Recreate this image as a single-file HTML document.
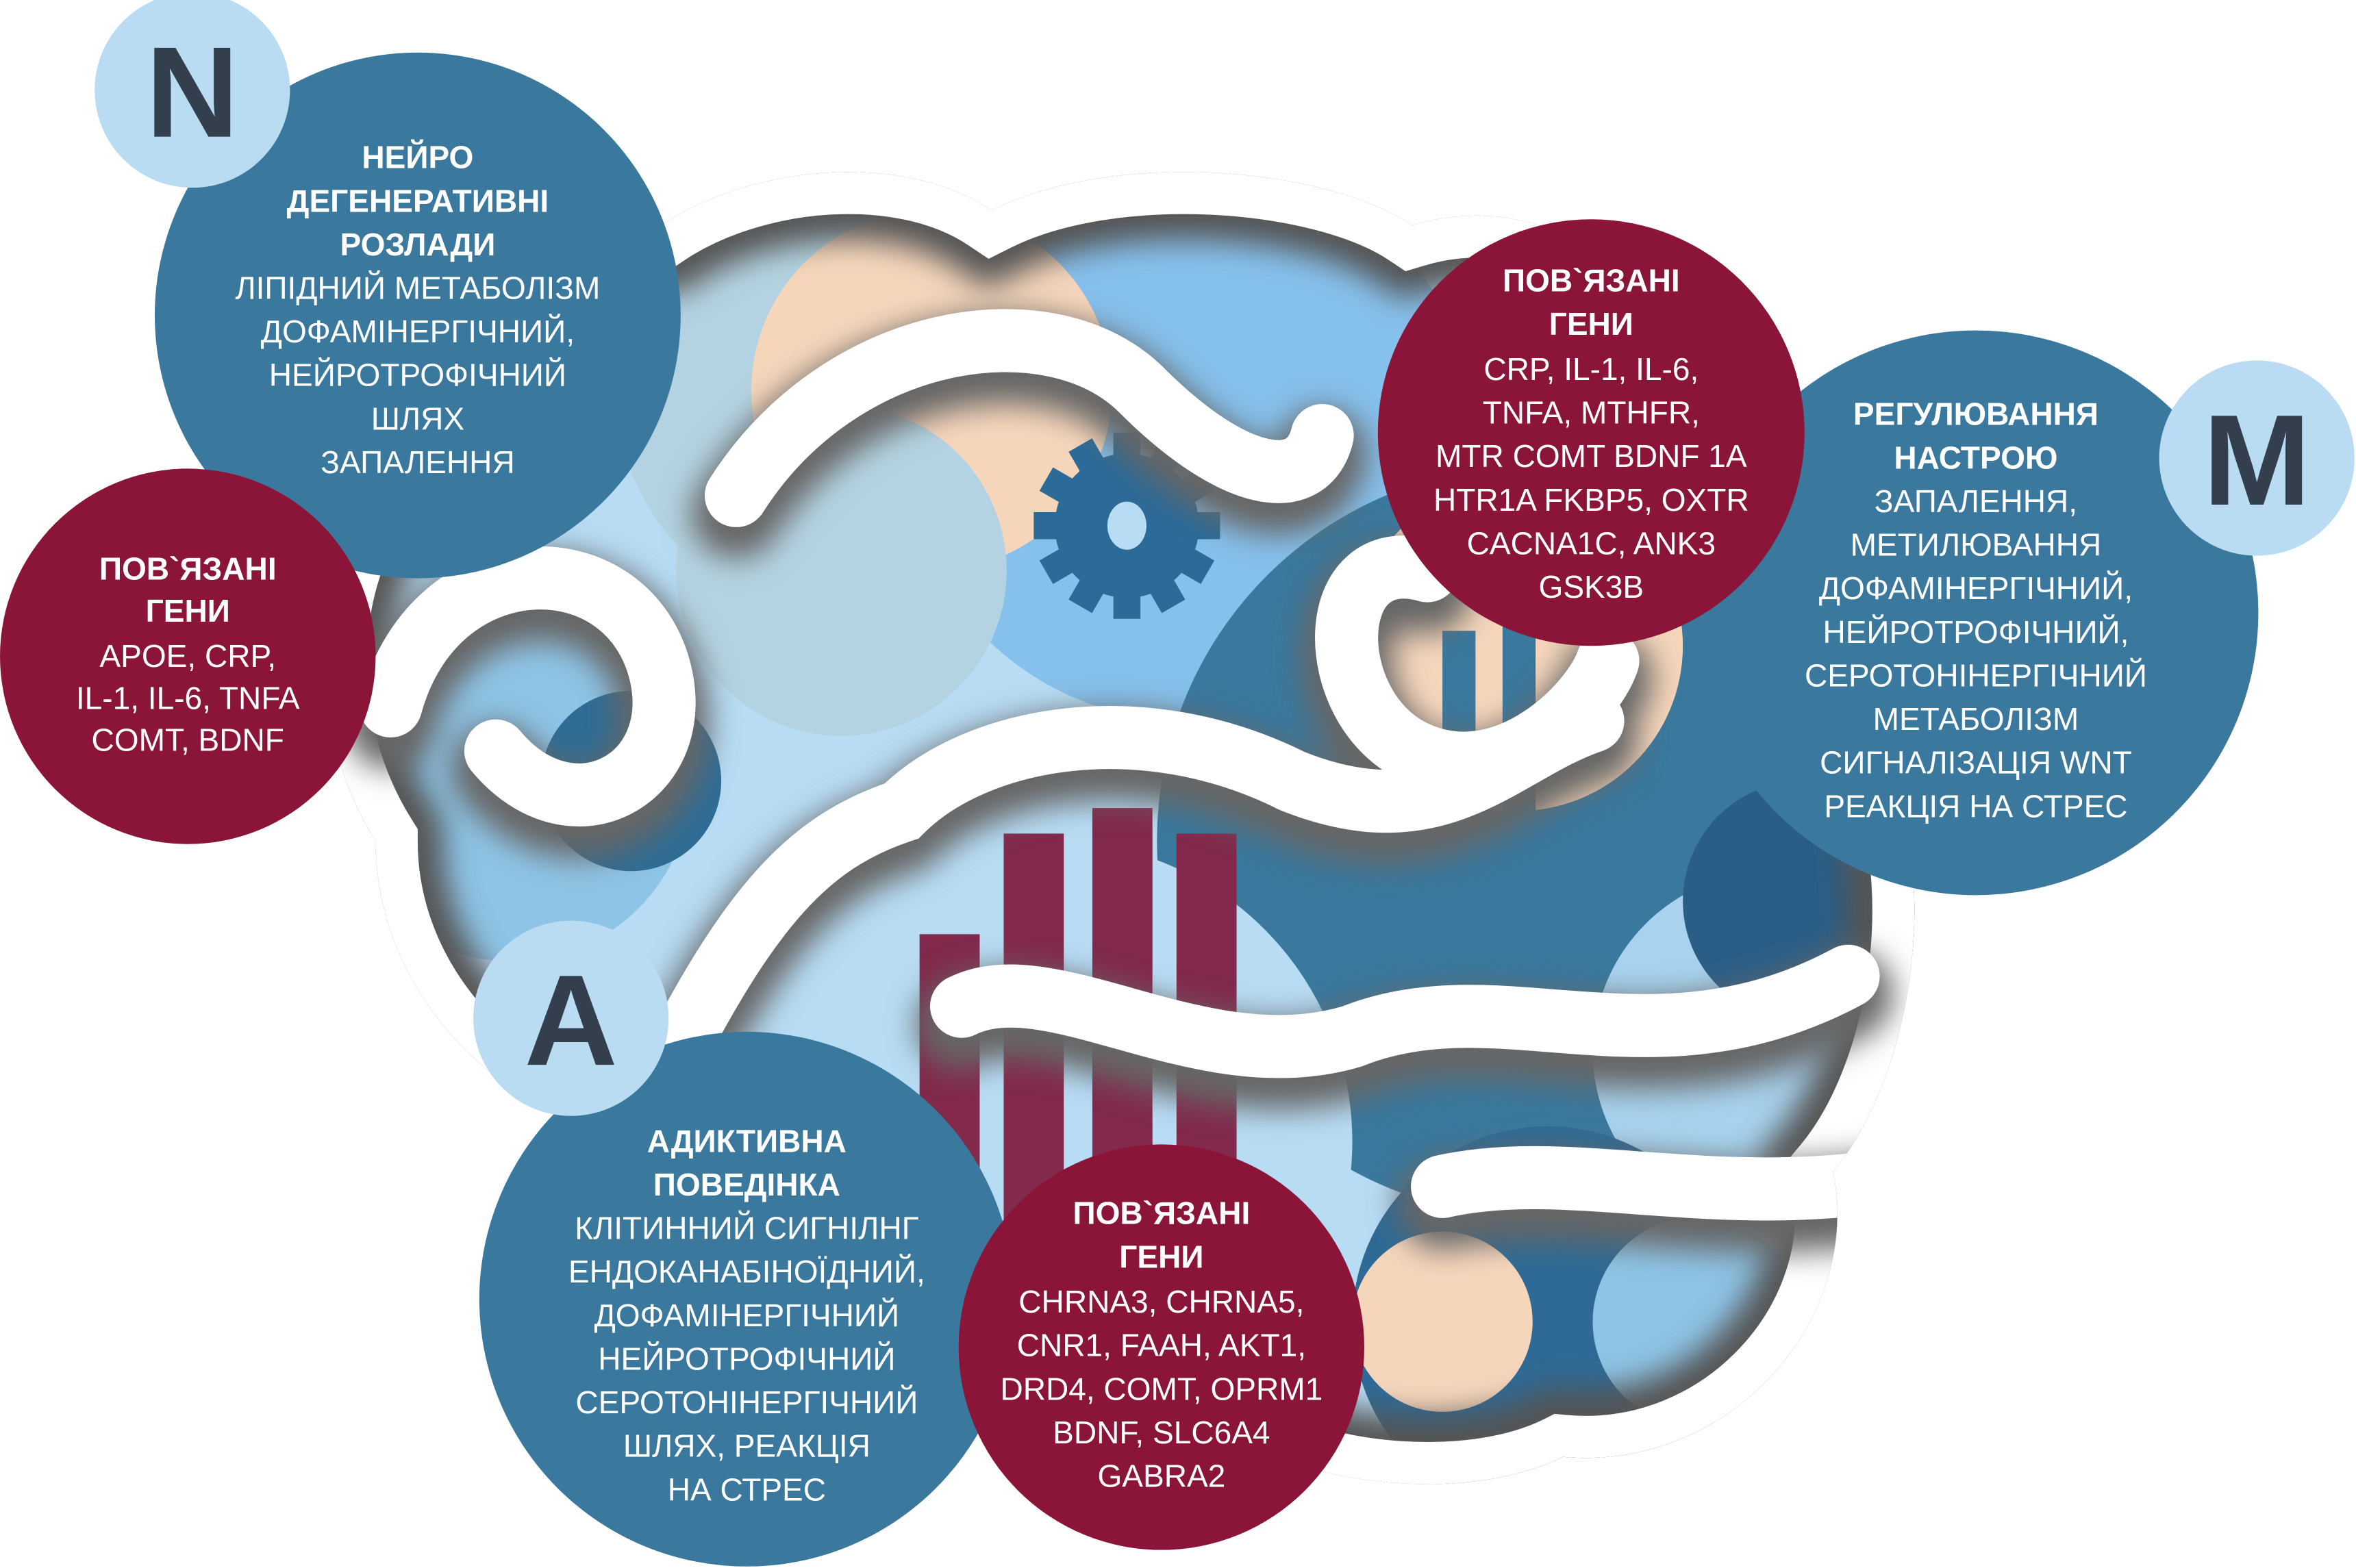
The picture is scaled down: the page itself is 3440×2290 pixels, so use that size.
<!DOCTYPE html>
<html><head><meta charset="utf-8"><style>
html,body{margin:0;padding:0;background:#fff;}
svg{display:block;}
text{font-family:"Liberation Sans","DejaVu Sans",sans-serif;fill:#fff;text-anchor:middle;}
.h{font-weight:bold;font-size:21px;}
.b{font-size:21px;}
.L{font-family:"Liberation Sans",sans-serif;font-weight:bold;font-size:86px;fill:#333f4c;}
</style></head><body>
<svg width="3440" height="2290" viewBox="0 0 1568 1044" preserveAspectRatio="none" xmlns="http://www.w3.org/2000/svg">
<defs>
<filter id="sh" x="-20%" y="-20%" width="140%" height="140%"><feGaussianBlur stdDeviation="10"/></filter>
<path id="bp" d="M250 330 C240 200 360 150 440 150 C500 110 600 100 660 140 C740 100 880 110 940 150 C1040 120 1120 200 1130 280 C1230 300 1290 420 1260 520 C1290 600 1270 720 1220 780 C1240 880 1150 980 1040 970 C980 1000 880 990 830 960 C760 1000 640 960 600 900 C520 900 440 840 420 760 C330 740 250 660 250 560 C200 480 210 380 250 330Z"/>
<clipPath id="brain"><use href="#bp"/></clipPath>
</defs>
<g clip-path="url(#brain)">
<rect x="200" y="100" width="1100" height="900" fill="#b7dcf4"/>
<circle cx="560" cy="260" r="150" fill="#b4d3e2"/>
<circle cx="790" cy="290" r="190" fill="#86c0ec"/>
<circle cx="620" cy="260" r="120" fill="#f6d6bb"/>
<circle cx="560" cy="380" r="110" fill="#b4d3e2"/>
<circle cx="1020" cy="560" r="250" fill="#3a789d"/>
<circle cx="1010" cy="430" r="110" fill="#f6d6bb"/>
<rect x="960" y="420" width="22" height="120" fill="#3a789d"/>
<rect x="1000" y="390" width="22" height="150" fill="#3a789d"/>
<circle cx="1180" cy="700" r="120" fill="#a8d2ee"/>
<circle cx="1200" cy="600" r="80" fill="#2a5e87"/>
<circle cx="340" cy="520" r="120" fill="#8ec4e6"/>
<circle cx="420" cy="520" r="60" fill="#2f6c94"/>
<circle cx="700" cy="760" r="200" fill="#b7dcf4"/>
<circle cx="1030" cy="880" r="130" fill="#2e6a95"/>
<circle cx="960" cy="880" r="60" fill="#f6d6bb"/>
<circle cx="1130" cy="880" r="70" fill="#8ec4e6"/>
<rect x="910" y="700" width="110" height="20" rx="10" fill="#3a789d"/>
<rect x="920" y="730" width="100" height="18" rx="9" fill="#3a789d"/>
<rect x="612" y="622" width="40" height="200" fill="#82294c"/>
<rect x="668" y="555" width="40" height="260" fill="#82294c"/>
<rect x="727" y="538" width="40" height="270" fill="#82294c"/>
<rect x="783" y="555" width="40" height="240" fill="#82294c"/>
<g transform="translate(750,350)" fill="#2c6a98">
<circle r="48"/>
<g id="t"><rect x="-9" y="-62" width="18" height="20"/></g>
<use href="#t" transform="rotate(30)"/><use href="#t" transform="rotate(60)"/><use href="#t" transform="rotate(90)"/><use href="#t" transform="rotate(120)"/><use href="#t" transform="rotate(150)"/><use href="#t" transform="rotate(180)"/><use href="#t" transform="rotate(210)"/><use href="#t" transform="rotate(240)"/><use href="#t" transform="rotate(270)"/><use href="#t" transform="rotate(300)"/><use href="#t" transform="rotate(330)"/>
<ellipse rx="13" ry="16" fill="#b7dcf4"/>
</g>
<use href="#bp" fill="none" stroke="#555" stroke-width="90" filter="url(#sh)"/>
<use href="#bp" fill="none" stroke="#fff" stroke-width="56"/>
<g fill="none" stroke-linecap="round">
<g stroke="#666" stroke-width="60" filter="url(#sh)" transform="translate(0,12)">
<path d="M260 470 C290 360 420 360 440 450 C455 520 380 560 330 500"/>
<path d="M490 330 C560 220 700 200 760 260 C820 320 870 330 880 290"/>
<path d="M950 380 C880 360 880 470 940 500 C1000 530 1060 470 1070 440"/>
<path d="M440 720 C500 600 540 560 600 540 C650 490 760 470 860 520 C960 560 1000 500 1060 480"/>
<path d="M640 670 C700 640 800 720 900 690 C1000 650 1100 720 1230 650"/>
<path d="M960 790 C1050 770 1150 810 1290 780"/>
</g>
<g stroke="#fff" stroke-width="42">
<path d="M260 470 C290 360 420 360 440 450 C455 520 380 560 330 500"/>
<path d="M490 330 C560 220 700 200 760 260 C820 320 870 330 880 290"/>
<path d="M950 380 C880 360 880 470 940 500 C1000 530 1060 470 1070 440"/>
<path d="M440 720 C500 600 540 560 600 540 C650 490 760 470 860 520 C960 560 1000 500 1060 480"/>
<path d="M640 670 C700 640 800 720 900 690 C1000 650 1100 720 1230 650"/>
<path d="M960 790 C1050 770 1150 810 1290 780"/>
</g>
</g>
</g>

<circle cx="278" cy="210" r="175" fill="#3a789d"/>
<circle cx="128" cy="60" r="65" fill="#b9dcf3"/>
<text class="L" x="128" y="91">N</text>
<text class="h" x="278" y="112">НЕЙРО</text>
<text class="h" x="278" y="141">ДЕГЕНЕРАТИВНІ</text>
<text class="h" x="278" y="170">РОЗЛАДИ</text>
<text class="b" x="278" y="199">ЛІПІДНИЙ МЕТАБОЛІЗМ</text>
<text class="b" x="278" y="228">ДОФАМІНЕРГІЧНИЙ,</text>
<text class="b" x="278" y="257">НЕЙРОТРОФІЧНИЙ</text>
<text class="b" x="278" y="286">ШЛЯХ</text>
<text class="b" x="278" y="315">ЗАПАЛЕННЯ</text>

<circle cx="125" cy="437" r="125" fill="#8a1539"/>
<text class="h" x="125" y="386">ПОВ`ЯЗАНІ</text>
<text class="h" x="125" y="414">ГЕНИ</text>
<text class="b" x="125" y="444">APOE, CRP,</text>
<text class="b" x="125" y="472">IL-1, IL-6, TNFA</text>
<text class="b" x="125" y="500">COMT, BDNF</text>

<circle cx="1315" cy="408" r="188" fill="#3a789d"/>
<circle cx="1502" cy="305" r="65" fill="#b9dcf3"/>
<text class="L" x="1502" y="336">M</text>
<text class="h" x="1315" y="283">РЕГУЛЮВАННЯ</text>
<text class="h" x="1315" y="312">НАСТРОЮ</text>
<text class="b" x="1315" y="341">ЗАПАЛЕННЯ,</text>
<text class="b" x="1315" y="370">МЕТИЛЮВАННЯ</text>
<text class="b" x="1315" y="399">ДОФАМІНЕРГІЧНИЙ,</text>
<text class="b" x="1315" y="428">НЕЙРОТРОФІЧНИЙ,</text>
<text class="b" x="1315" y="457">СЕРОТОНІНЕРГІЧНИЙ</text>
<text class="b" x="1315" y="486">МЕТАБОЛІЗМ</text>
<text class="b" x="1315" y="515">СИГНАЛІЗАЦІЯ WNT</text>
<text class="b" x="1315" y="544">РЕАКЦІЯ НА СТРЕС</text>

<circle cx="1059" cy="288" r="142" fill="#8a1539"/>
<text class="h" x="1059" y="194">ПОВ`ЯЗАНІ</text>
<text class="h" x="1059" y="223">ГЕНИ</text>
<text class="b" x="1059" y="253">CRP, IL-1, IL-6,</text>
<text class="b" x="1059" y="282">TNFA, MTHFR,</text>
<text class="b" x="1059" y="311">MTR COMT BDNF 1A</text>
<text class="b" x="1059" y="340">HTR1A FKBP5, OXTR</text>
<text class="b" x="1059" y="369">CACNA1C, ANK3</text>
<text class="b" x="1059" y="398">GSK3B</text>

<circle cx="497" cy="865" r="178" fill="#3a789d"/>
<circle cx="380" cy="678" r="65" fill="#b9dcf3"/>
<text class="L" x="380" y="709">A</text>
<text class="h" x="497" y="767">АДИКТИВНА</text>
<text class="h" x="497" y="796">ПОВЕДІНКА</text>
<text class="b" x="497" y="825">КЛІТИННИЙ СИГНІЛНГ</text>
<text class="b" x="497" y="854">ЕНДОКАНАБІНОЇДНИЙ,</text>
<text class="b" x="497" y="883">ДОФАМІНЕРГІЧНИЙ</text>
<text class="b" x="497" y="912">НЕЙРОТРОФІЧНИЙ</text>
<text class="b" x="497" y="941">СЕРОТОНІНЕРГІЧНИЙ</text>
<text class="b" x="497" y="970">ШЛЯХ, РЕАКЦІЯ</text>
<text class="b" x="497" y="999">НА СТРЕС</text>

<circle cx="773" cy="897" r="135" fill="#8a1539"/>
<text class="h" x="773" y="815">ПОВ`ЯЗАНІ</text>
<text class="h" x="773" y="844">ГЕНИ</text>
<text class="b" x="773" y="874">CHRNA3, CHRNA5,</text>
<text class="b" x="773" y="903">CNR1, FAAH, AKT1,</text>
<text class="b" x="773" y="932">DRD4, COMT, OPRM1</text>
<text class="b" x="773" y="961">BDNF, SLC6A4</text>
<text class="b" x="773" y="990">GABRA2</text>
</svg>
</body></html>
